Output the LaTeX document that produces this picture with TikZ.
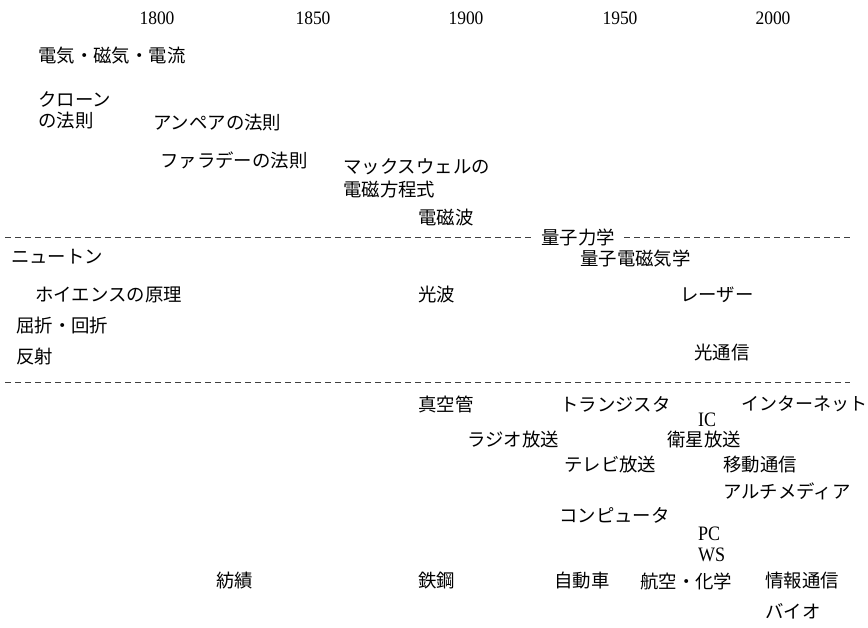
\documentclass[tikz,border=0pt]{standalone}
\usepackage{fontspec}
\newfontfamily\jp{Noto Sans CJK JP}
\newfontfamily\latser{Liberation Serif}
\newcommand\narrowyr[1]{\scalebox{0.92}[1]{#1}}
\newcommand\narrowlat[1]{\scalebox{0.88}[1]{#1}}
\begin{document}
\begin{tikzpicture}[x=1pt,y=-1pt,
  jt/.style={font=\jp\fontsize{18.4}{22}\selectfont, anchor=west, inner sep=0pt},
  yr/.style={font=\latser\fontsize{19}{22}\selectfont, inner sep=0pt},
  lat/.style={font=\latser\fontsize{20.5}{22}\selectfont, anchor=west, inner sep=0pt},
  sep/.style={draw=black!75, line width=0.8pt, dash pattern=on 6pt off 4pt}]
\useasboundingbox (0,0) rectangle (868,627);
% years
\node[yr] (y1800) at (157,18) {\narrowyr{1800}};
\node[yr] (y1850) at (313,18) {\narrowyr{1850}};
\node[yr] (y1900) at (466,18) {\narrowyr{1900}};
\node[yr] (y1950) at (620,18) {\narrowyr{1950}};
\node[yr] (y2000) at (773,18) {\narrowyr{2000}};
% electromagnetism
\node[jt] (denki) at (38,56) {電気・磁気・電流};
\node[jt] (coul1) at (38,99) {クローン};
\node[jt] (coul2) at (38,121) {の法則};
\node[jt] (ampere) at (153,123) {アンペアの法則};
\node[jt] (faraday) at (160,160) {ファラデーの法則};
\node[jt] (maxw1) at (343,167) {マックスウェルの};
\node[jt] (maxw2) at (343,190) {電磁方程式};
\node[jt] (emwave) at (418,218) {電磁波};
% separator 1
\coordinate (s1l) at (5,237);
\coordinate (s1r) at (850,237);
\node[jt] (ryoshi) at (541,237) {量子力学};
\coordinate (s1a) at (531,237);
\coordinate (s1b) at (624,237);
\draw[sep] (s1l) -- (s1a);
\draw[sep] (s1b) -- (s1r);
% optics
\node[jt] (qed) at (580,259) {量子電磁気学};
\node[jt] (newton) at (11,257) {ニュートン};
\node[jt] (huygens) at (35,295) {ホイエンスの原理};
\node[jt] (kouha) at (418,295) {光波};
\node[jt] (laser) at (680,295) {レーザー};
\node[jt] (kussetsu) at (16,326) {屈折・回折};
\node[jt] (hansha) at (16,357) {反射};
\node[jt] (hikari) at (694,353) {光通信};
% separator 2
\coordinate (s2l) at (5,382);
\coordinate (s2r) at (850,382);
\draw[sep] (s2l) -- (s2r);
% technology
\node[jt] (shinku) at (418,404) {真空管};
\node[jt] (tr) at (560,404) {トランジスタ};
\node[jt, font=\jp\fontsize{18}{22}\selectfont] (inet) at (741,404) {インターネット};
\node[lat] (ic) at (698,420) {\narrowlat{IC}};
\node[jt] (radio) at (467,440) {ラジオ放送};
\node[jt] (eisei) at (667,440) {衛星放送};
\node[jt] (tv) at (564,465) {テレビ放送};
\node[jt] (idou) at (723,465) {移動通信};
\node[jt] (multi) at (723,491) {アルチメディア};
\node[jt] (comp) at (559,515) {コンピュータ};
\node[lat] (pc) at (698,534) {\narrowlat{PC}};
\node[lat] (ws) at (698,555) {\narrowlat{WS}};
% industries
\node[jt] (boseki) at (216,581) {紡績};
\node[jt] (tekko) at (418,581) {鉄鋼};
\node[jt] (jidosha) at (554,581) {自動車};
\node[jt] (koku) at (640,581) {航空・化学};
\node[jt] (joho) at (765,581) {情報通信};
\node[jt] (bio) at (765,611) {バイオ};
\end{tikzpicture}
\end{document}
